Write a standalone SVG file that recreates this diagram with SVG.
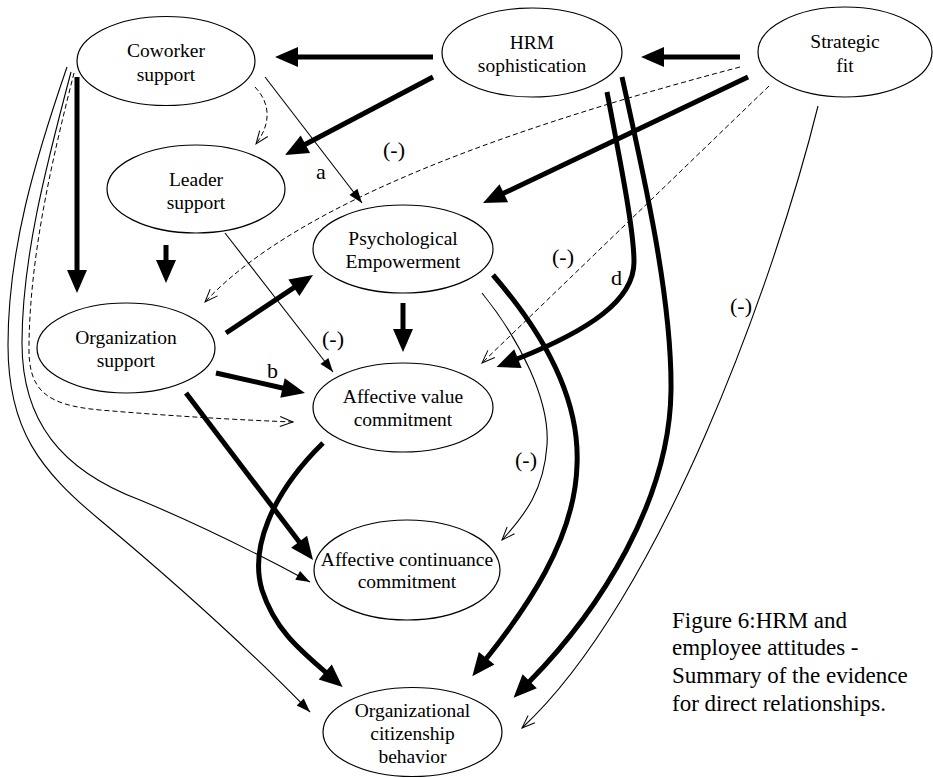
<svg xmlns="http://www.w3.org/2000/svg" width="933" height="778" viewBox="0 0 933 778" font-family="'Liberation Serif', 'Times New Roman', serif">
  <style>
    text { font-family: "Liberation Serif", "Times New Roman", serif; fill: #000; }
    .node ellipse { fill: #fff; stroke: #000; stroke-width: 1.2; }
    .nt { font-size: 19.5px; text-anchor: middle; }
    .lbl { font-size: 22px; }
    .cap { font-size: 23px; }
    #edges path { fill: none; stroke: #000; }
    #edges .thick { stroke-width: 5; marker-end: url(#big); }
    #edges .thin { stroke-width: 1.1; marker-end: url(#small); }
    #edges .neg { stroke-width: 1.1; marker-end: url(#open); }
    #edges .dash { stroke-width: 1; stroke-dasharray: 5 3; marker-end: url(#open); }
  </style>
  <defs>
    <marker id="big" markerUnits="userSpaceOnUse" markerWidth="24" markerHeight="21" refX="1" refY="10" orient="auto" overflow="visible">
      <path d="M0,0 L23,10 L0,20 z" fill="#000"/>
    </marker>
    <marker id="small" markerUnits="userSpaceOnUse" markerWidth="15" markerHeight="11" refX="14" refY="5" orient="auto" overflow="visible">
      <path d="M0,0 L14,5 L0,10 z" fill="#000"/>
    </marker>
    <marker id="open" markerUnits="userSpaceOnUse" markerWidth="14" markerHeight="11" refX="13" refY="5" orient="auto" overflow="visible">
      <path d="M0,0 L13,5 L0,10" fill="none" stroke="#000" stroke-width="1"/>
    </marker>
  </defs>

  <rect width="933" height="778" fill="#fff"/>

  <g id="edges">
    <!-- strong relationships -->
    <path class="thick" d="M433,57 L297,57"/>
    <path class="thick" d="M433,77 L304.5,144.7"/>
    <path class="thick" d="M740,57 L663,57"/>
    <path class="thick" d="M748,77 L502.9,193.6"/>
    <path class="thick" d="M77,77 L77,271"/>
    <path class="thick" d="M166,245 L166,261"/>
    <path class="thick" d="M403,303 L403,330"/>
    <path class="thick" d="M226,333 L294.7,287.2"/>
    <path class="thick" d="M216,373 L283.5,388.2"/>
    <path class="thick" d="M186,393 L299.7,542.5"/>
    <path class="thick" d="M607,92 C620,160 634,230 634,262 C634,300 590,330 517,359"/>
    <path class="thick" d="M622,77 C645,180 672,300 671,390 C670,500 600,610 529,682"/>
    <path class="thick" d="M493,275 C545,335 580,400 577,465 C575,540 525,610 486,659"/>
    <path class="thick" d="M323,443 C270,495 250,550 262,590 C275,630 300,650 326,672.6"/>

    <!-- weaker relationships -->
    <path class="thin" d="M265,77 L362,203"/>
    <path class="thin" d="M225,233 L333,372"/>
    <path class="thin" d="M71,72 C45,170 22,260 22,343 C22,420 60,470 140,500 C200,525 260,555 310,582"/>
    <path class="thin" d="M67,67 C35,160 8,250 8,345 C8,430 40,470 100,520 C160,570 240,640 310,712"/>

    <!-- negative relationships -->
    <path class="neg" d="M482,293 C520,340 550,400 547,445 C544,490 525,515 502,540"/>
    <path class="neg" d="M818,106 C775,280 660,600 522,728"/>

    <!-- mixed evidence -->
    <path class="dash" d="M255,87 C272,105 270,125 256,144"/>
    <path class="dash" d="M740,67 C520,125 300,200 205,302"/>
    <path class="dash" d="M769,86 L482,363"/>
    <path class="dash" d="M74,73 C52,160 30,255 29,345 C28,390 45,405 100,410 C170,416 240,420 293,422"/>
  </g>

  <g id="edge-labels">
    <text class="lbl" x="316" y="179">a</text>
    <text class="lbl" x="383" y="157">(-)</text>
    <text class="lbl" x="552" y="264">(-)</text>
    <text class="lbl" x="611" y="285">d</text>
    <text class="lbl" x="322" y="346">(-)</text>
    <text class="lbl" x="267" y="378">b</text>
    <text class="lbl" x="515" y="467">(-)</text>
    <text class="lbl" x="730" y="313">(-)</text>
  </g>

  <g id="coworker" class="node">
    <ellipse cx="166" cy="61" rx="89" ry="44.5"/>
    <text class="nt" x="166" y="57">Coworker</text>
    <text class="nt" x="166" y="81">support</text>
  </g>
  <g id="hrm" class="node">
    <ellipse cx="532" cy="52.5" rx="90" ry="44.5"/>
    <text class="nt" x="532" y="48.5">HRM</text>
    <text class="nt" x="532" y="72">sophistication</text>
  </g>
  <g id="strategic" class="node">
    <ellipse cx="845" cy="52" rx="87" ry="45"/>
    <text class="nt" x="845" y="48">Strategic</text>
    <text class="nt" x="845" y="72">fit</text>
  </g>
  <g id="leader" class="node">
    <ellipse cx="196" cy="189" rx="89" ry="44"/>
    <text class="nt" x="196" y="186">Leader</text>
    <text class="nt" x="196" y="209">support</text>
  </g>
  <g id="empowerment" class="node">
    <ellipse cx="403" cy="249" rx="90" ry="44"/>
    <text class="nt" x="403" y="245">Psychological</text>
    <text class="nt" x="403" y="268">Empowerment</text>
  </g>
  <g id="org-support" class="node">
    <ellipse cx="126" cy="348" rx="89" ry="45"/>
    <text class="nt" x="126" y="344">Organization</text>
    <text class="nt" x="126" y="367">support</text>
  </g>
  <g id="value-commitment" class="node">
    <ellipse cx="403" cy="407.5" rx="90" ry="44.5"/>
    <text class="nt" x="403" y="403">Affective value</text>
    <text class="nt" x="403" y="426">commitment</text>
  </g>
  <g id="continuance-commitment" class="node">
    <ellipse cx="407" cy="570" rx="93" ry="50"/>
    <text class="nt" x="407" y="566">Affective continuance</text>
    <text class="nt" x="407" y="588">commitment</text>
  </g>
  <g id="ocb" class="node">
    <ellipse cx="412.5" cy="732" rx="89.5" ry="44.5"/>
    <text class="nt" x="412.5" y="717">Organizational</text>
    <text class="nt" x="412.5" y="740">citizenship</text>
    <text class="nt" x="412.5" y="763">behavior</text>
  </g>

  <g id="caption">
    <text class="cap" x="672" y="628">Figure 6:HRM and</text>
    <text class="cap" x="672" y="655">employee attitudes -</text>
    <text class="cap" x="672" y="683">Summary of the evidence</text>
    <text class="cap" x="672" y="711">for direct relationships.</text>
  </g>
</svg>
